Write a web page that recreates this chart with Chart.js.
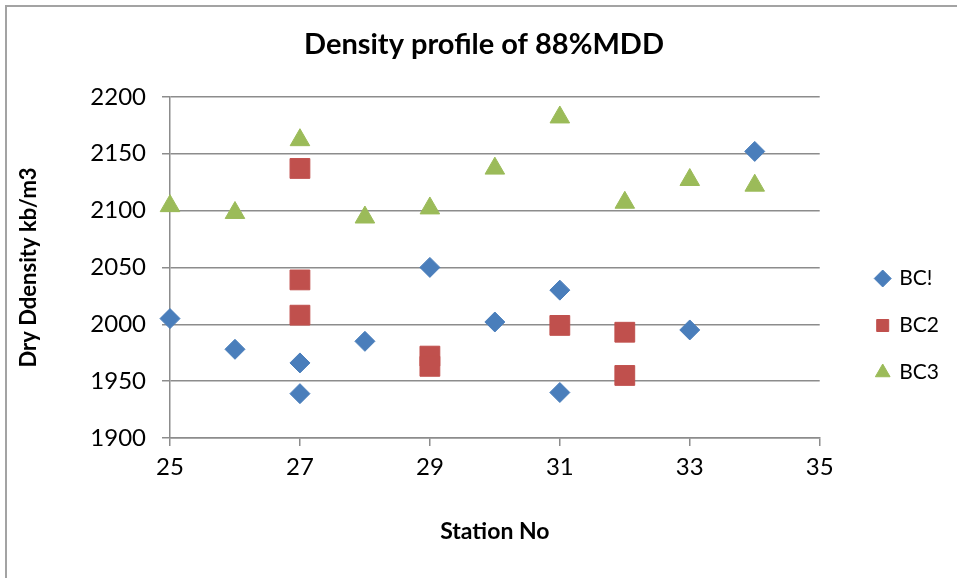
<!DOCTYPE html>
<html>
<head>
<meta charset="utf-8">
<title>Density profile of 88%MDD</title>
<script src="https://cdn.jsdelivr.net/npm/chart.js@4.4.1/dist/chart.umd.min.js"></script>
<style>
  html, body { margin: 0; padding: 0; background: #fff; }
  #wrap { position: relative; width: 957px; height: 578px; overflow: hidden; }
  #frame { position: absolute; left: 5px; top: 5px; width: 990px; height: 610px; border: 2px solid #a3a3a3; box-sizing: border-box; }
  #densityChart { position: absolute; left: 0; top: 0; }
</style>
</head>
<body>
<div id="wrap">
  <div id="frame"></div>
  <canvas id="densityChart" width="957" height="578"></canvas>
</div>
<script>
// station numbers and dry densities for each BC series
var bc1Station = [25, 26, 27, 27, 28, 29, 30, 31, 31, 33, 34];
var bc1Density = [2005, 1978, 1966, 1939, 1985, 2050, 2002, 2030, 1940, 1995, 2152];

var bc2Station = [27, 27, 27, 29, 29, 31, 32, 32];
var bc2Density = [2137, 2039, 2008, 1972, 1963, 1999, 1993, 1955];

var bc3Station = [25, 26, 27, 28, 29, 30, 31, 32, 33, 34];
var bc3Density = [2104, 2098, 2162, 2094, 2102, 2137, 2182, 2107, 2127, 2122];

function toPoints(xs, ys) {
  var pts = [];
  for (var i = 0; i < xs.length; i++) pts.push({x: xs[i], y: ys[i]});
  return pts;
}

Chart.defaults.font.family = 'Lato, "Open Sans", sans-serif';
Chart.defaults.color = '#000';

// nudge legend and title after layout: legend away from the plot, title to page centre
var boxNudge = {
  id: 'boxNudge',
  afterLayout: function(chart) {
    chart.legend.left += 31;
    chart.legend.right += 31;
    chart.legend.top += 49;
    chart.legend.bottom += 49;
    chart.titleBlock.left += 25;
    chart.titleBlock.right += 25;
  }
};

var gridColor = '#8c8c8c';

var ctx = document.getElementById("densityChart");
var myChart = new Chart(ctx, {
  type: 'scatter',
  data: {
    datasets: [
      {
        label: "BC!",
        data: toPoints(bc1Station, bc1Density),
        pointStyle: 'rectRot',
        pointRadius: 10,
        pointHoverRadius: 10,
        backgroundColor: "#4a7ebb",
        borderColor: "#4a7ebb",
        borderWidth: 1,
        clip: false
      },
      {
        label: "BC2",
        data: toPoints(bc2Station, bc2Density),
        pointStyle: 'rect',
        pointRadius: 14,
        pointHoverRadius: 14,
        backgroundColor: "#c0504d",
        borderColor: "#c0504d",
        borderWidth: 1,
        clip: false
      },
      {
        label: "BC3",
        data: toPoints(bc3Station, bc3Density),
        pointStyle: 'triangle',
        pointRadius: 11.3,
        pointHoverRadius: 11.3,
        backgroundColor: "#9bbb59",
        borderColor: "#9bbb59",
        borderWidth: 1,
        clip: false
      }
    ]
  },
  options: {
    responsive: false,
    animation: false,
    layout: {
      padding: {left: 0, top: 0, right: 39, bottom: 25}
    },
    plugins: {
      title: {
        display: true,
        text: 'Density profile of 88%MDD',
        font: {size: 29, weight: 'bold'},
        padding: {top: 27, bottom: 35}
      },
      legend: {
        position: 'right',
        labels: {
          usePointStyle: true,
          boxWidth: 12,
          boxHeight: 12,
          padding: 26,
          font: {size: 21}
        }
      },
      tooltip: {enabled: false}
    },
    scales: {
      x: {
        type: 'linear',
        min: 25,
        max: 35,
        afterFit: function(scale) { scale.height = 115; },
        ticks: {stepSize: 2, padding: 7, font: {size: 24}, callback: function(v) { return String(v); }},
        grid: {drawOnChartArea: false, drawTicks: true, tickLength: 8, color: gridColor, lineWidth: 1.5},
        border: {color: gridColor, width: 1.5},
        title: {
          display: true,
          text: 'Station No',
          font: {size: 23, weight: 'bold'},
          padding: {top: 0, bottom: 8}
        }
      },
      y: {
        min: 1900,
        max: 2200,
        afterFit: function(scale) { scale.width = 170; },
        ticks: {stepSize: 50, padding: 16, font: {size: 24}, callback: function(v) { return String(v); }},
        grid: {drawTicks: true, tickLength: 8, color: gridColor, lineWidth: 1.5},
        border: {color: gridColor, width: 1.5},
        title: {
          display: true,
          text: 'Dry Ddensity kb/m3',
          font: {size: 22, weight: 'bold'},
          padding: {top: 16, bottom: 0}
        }
      }
    }
  },
  plugins: [boxNudge]
});
</script>
</body>
</html>
